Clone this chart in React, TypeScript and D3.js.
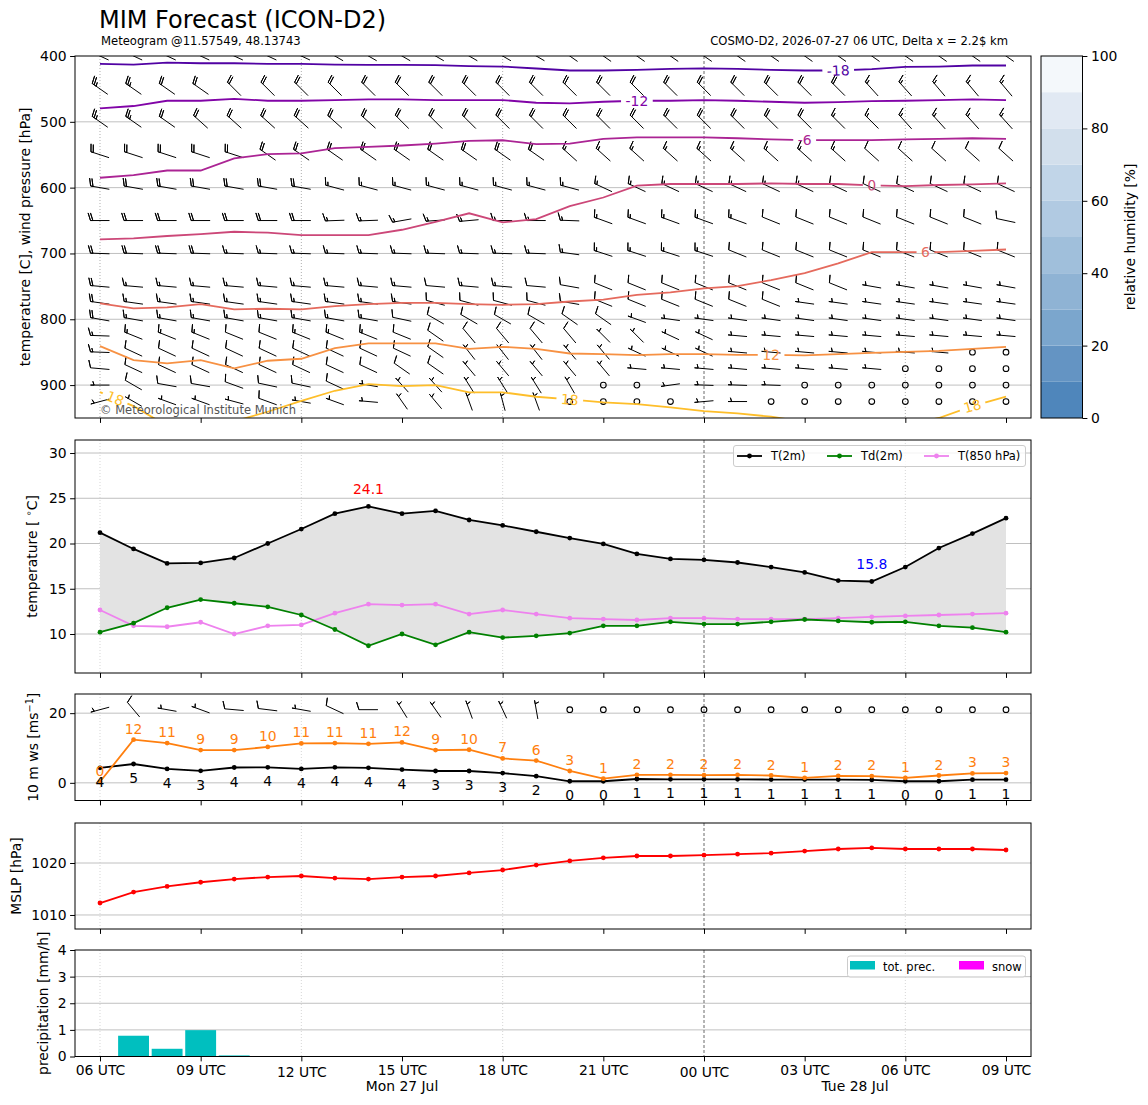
import React, { useEffect, useRef } from "react";
import * as d3 from "d3";

// forecast valid times (hourly)
const validTimes = [
  "2026-07-27T06:00:00Z", "2026-07-27T07:00:00Z", "2026-07-27T08:00:00Z", "2026-07-27T09:00:00Z",
  "2026-07-27T10:00:00Z", "2026-07-27T11:00:00Z", "2026-07-27T12:00:00Z", "2026-07-27T13:00:00Z",
  "2026-07-27T14:00:00Z", "2026-07-27T15:00:00Z", "2026-07-27T16:00:00Z", "2026-07-27T17:00:00Z",
  "2026-07-27T18:00:00Z", "2026-07-27T19:00:00Z", "2026-07-27T20:00:00Z", "2026-07-27T21:00:00Z",
  "2026-07-27T22:00:00Z", "2026-07-27T23:00:00Z", "2026-07-28T00:00:00Z", "2026-07-28T01:00:00Z",
  "2026-07-28T02:00:00Z", "2026-07-28T03:00:00Z", "2026-07-28T04:00:00Z", "2026-07-28T05:00:00Z",
  "2026-07-28T06:00:00Z", "2026-07-28T07:00:00Z", "2026-07-28T08:00:00Z", "2026-07-28T09:00:00Z",
];

// 2 m temperature, 2 m dew point, 850 hPa temperature [°C]
const t2m = [21.2, 19.4, 17.8, 17.85, 18.4, 20.0, 21.6, 23.3, 24.1, 23.3, 23.6, 22.6, 22.0, 21.3, 20.6, 19.95, 18.85, 18.3, 18.2, 17.9, 17.4, 16.8, 15.9, 15.8, 17.4, 19.5, 21.1, 22.8];
const td2m = [10.2, 11.2, 12.9, 13.8, 13.4, 13.0, 12.1, 10.5, 8.7, 10.0, 8.8, 10.2, 9.6, 9.8, 10.1, 10.9, 10.9, 11.35, 11.1, 11.1, 11.35, 11.6, 11.45, 11.3, 11.35, 10.9, 10.7, 10.2];
const t850 = [12.65, 10.9, 10.8, 11.3, 10.0, 10.9, 11.0, 12.3, 13.3, 13.2, 13.3, 12.2, 12.65, 12.2, 11.75, 11.65, 11.55, 11.75, 11.75, 11.65, 11.65, 11.65, 11.75, 11.9, 12.0, 12.1, 12.2, 12.3];

// 10 m wind speed and gusts [m/s]
const ws10 = [4.3, 5.4, 4.0, 3.45, 4.4, 4.45, 4.0, 4.45, 4.3, 3.8, 3.4, 3.4, 2.8, 1.9, 0.45, 0.45, 1.1, 1.0, 1.0, 1.0, 0.95, 0.95, 0.95, 0.85, 0.45, 0.45, 0.9, 0.9];
const gust10 = [0.3, 12.4, 11.4, 9.4, 9.4, 10.3, 11.3, 11.4, 11.2, 11.6, 9.4, 9.5, 7.0, 6.4, 3.4, 1.2, 2.3, 2.3, 2.2, 2.3, 2.1, 1.45, 2.0, 1.9, 1.45, 2.1, 2.7, 2.8];

// 10 m wind barbs (barb units, direction wind comes from in degrees)
const sfcBarbSpeed = [5, 10, 5, 5, 10, 10, 5, 10, 10, 5, 5, 5, 5, 5, 0, 0, 0, 0, 0, 0, 0, 0, 0, 0, 0, 0, 0, 0];
const sfcBarbDir = [255, 320, 280, 290, 275, 277, 280, 295, 270, 328, 325, 340, 335, 350, 0, 0, 0, 0, 0, 0, 0, 0, 0, 0, 0, 0, 0, 0];

// mean sea level pressure [hPa]
const mslp = [1012.3, 1014.4, 1015.5, 1016.3, 1016.9, 1017.3, 1017.5, 1017.1, 1016.9, 1017.3, 1017.5, 1018.1, 1018.65, 1019.6, 1020.4, 1021.0, 1021.35, 1021.35, 1021.5, 1021.7, 1021.9, 1022.3, 1022.7, 1022.9, 1022.7, 1022.7, 1022.7, 1022.5];

// precipitation [mm/h]
const totPrec = [0, 0.78, 0.29, 0.99, 0.04, 0, 0, 0, 0, 0, 0, 0, 0, 0, 0, 0, 0, 0, 0, 0, 0, 0, 0, 0, 0, 0, 0, 0];
const snowPrec = [0, 0, 0, 0, 0, 0, 0, 0, 0, 0, 0, 0, 0, 0, 0, 0, 0, 0, 0, 0, 0, 0, 0, 0, 0, 0, 0, 0];

// upper air wind barbs: pressure levels, speed (barb units), direction (deg)
const barbLevels = [400, 450, 500, 550, 600, 650, 700, 750, 775, 800, 825, 850, 875, 900, 925];
const barbSpeed = [
  [25, 25, 25, 25, 25, 25, 25, 25, 25, 25, 25, 25, 25, 25, 25, 25, 25, 25, 25, 25, 25, 20, 20, 20, 20, 20, 20, 20],
  [25, 25, 20, 20, 20, 20, 20, 20, 20, 20, 20, 20, 20, 20, 20, 20, 20, 20, 20, 20, 20, 20, 20, 15, 15, 15, 15, 15],
  [25, 25, 20, 20, 20, 20, 20, 20, 20, 20, 20, 20, 20, 20, 20, 20, 20, 20, 20, 20, 20, 20, 15, 15, 15, 15, 15, 15],
  [20, 20, 20, 20, 20, 20, 20, 20, 20, 20, 20, 20, 20, 20, 15, 15, 15, 15, 15, 15, 15, 15, 15, 10, 10, 10, 10, 10],
  [20, 20, 20, 20, 20, 20, 20, 15, 15, 15, 15, 15, 15, 15, 15, 15, 15, 15, 15, 15, 15, 15, 10, 10, 10, 10, 10, 10],
  [20, 20, 20, 20, 20, 20, 20, 15, 15, 15, 15, 15, 15, 15, 15, 15, 15, 15, 15, 15, 10, 10, 10, 10, 10, 10, 10, 10],
  [20, 20, 20, 20, 15, 15, 15, 15, 15, 15, 15, 15, 15, 15, 15, 15, 15, 15, 15, 10, 10, 10, 10, 10, 10, 10, 10, 10],
  [20, 15, 15, 15, 15, 15, 15, 15, 15, 15, 10, 15, 15, 10, 10, 10, 10, 10, 10, 10, 10, 10, 10, 5, 5, 5, 5, 5],
  [20, 15, 15, 15, 15, 15, 15, 15, 15, 15, 10, 10, 10, 10, 10, 10, 10, 10, 10, 10, 10, 5, 5, 5, 5, 5, 5, 5],
  [20, 15, 15, 15, 15, 15, 15, 15, 15, 10, 10, 10, 10, 10, 10, 10, 5, 5, 5, 5, 5, 5, 5, 5, 5, 5, 5, 5],
  [15, 15, 15, 15, 10, 10, 15, 15, 15, 10, 10, 10, 10, 10, 10, 5, 5, 5, 5, 5, 5, 5, 5, 5, 5, 5, 5, 5],
  [15, 10, 10, 10, 10, 10, 10, 10, 10, 10, 10, 5, 5, 5, 5, 5, 5, 5, 5, 5, 5, 5, 5, 5, 5, 5, 0, 0],
  [10, 10, 10, 10, 10, 10, 10, 10, 10, 10, 10, 5, 5, 5, 5, 5, 5, 5, 5, 5, 5, 5, 5, 5, 0, 0, 0, 0],
  [5, 10, 10, 10, 10, 10, 10, 10, 5, 5, 5, 5, 5, 5, 5, 0, 0, 5, 5, 5, 5, 0, 0, 0, 0, 0, 0, 0],
  [5, 5, 5, 5, 5, 10, 5, 5, 5, 5, 5, 5, 5, 5, 0, 0, 0, 0, 5, 5, 0, 0, 0, 0, 0, 0, 0, 0],
];
const barbDir = [
  [295, 295, 295, 295, 295, 295, 295, 300, 300, 300, 300, 300, 300, 300, 305, 305, 305, 305, 305, 305, 305, 305, 305, 305, 305, 305, 305, 305],
  [305, 305, 305, 305, 315, 315, 315, 315, 315, 315, 315, 315, 315, 315, 315, 315, 315, 315, 315, 315, 315, 315, 315, 318, 318, 320, 320, 320],
  [305, 305, 305, 312, 312, 312, 312, 312, 312, 315, 315, 315, 315, 315, 315, 315, 315, 315, 315, 315, 315, 315, 315, 315, 318, 318, 318, 318],
  [288, 288, 288, 288, 288, 305, 305, 305, 305, 305, 305, 305, 305, 305, 312, 312, 312, 312, 312, 312, 312, 312, 312, 312, 312, 312, 312, 312],
  [280, 280, 280, 280, 280, 280, 280, 285, 285, 285, 285, 285, 285, 285, 285, 295, 295, 295, 295, 295, 295, 295, 295, 295, 295, 295, 295, 295],
  [270, 270, 270, 270, 270, 270, 270, 268, 268, 260, 266, 265, 270, 270, 272, 290, 290, 290, 290, 290, 292, 292, 292, 292, 292, 292, 292, 282],
  [272, 272, 272, 272, 272, 272, 272, 272, 272, 272, 272, 272, 272, 272, 278, 288, 288, 288, 288, 292, 292, 292, 292, 292, 292, 292, 292, 292],
  [275, 275, 275, 275, 275, 275, 275, 275, 275, 275, 275, 275, 275, 275, 280, 292, 292, 292, 292, 292, 292, 292, 292, 280, 280, 280, 280, 280],
  [278, 278, 278, 278, 278, 278, 278, 278, 278, 278, 285, 285, 285, 285, 280, 292, 292, 292, 292, 292, 292, 278, 278, 278, 278, 278, 278, 278],
  [280, 280, 280, 280, 280, 280, 280, 280, 280, 282, 300, 300, 300, 300, 305, 305, 290, 278, 278, 278, 278, 278, 278, 278, 278, 278, 278, 278],
  [272, 292, 292, 292, 292, 292, 292, 292, 292, 292, 305, 320, 320, 320, 320, 315, 315, 295, 295, 275, 275, 275, 275, 275, 275, 275, 275, 275],
  [272, 295, 295, 295, 295, 295, 295, 295, 295, 295, 305, 322, 322, 322, 320, 320, 295, 295, 295, 275, 275, 275, 275, 275, 275, 275, 0, 0],
  [275, 295, 295, 295, 295, 295, 295, 295, 295, 305, 305, 320, 320, 320, 320, 320, 275, 275, 275, 275, 275, 275, 275, 275, 0, 0, 0, 0],
  [270, 300, 280, 280, 290, 282, 282, 295, 280, 318, 318, 328, 328, 328, 330, 0, 0, 262, 272, 272, 272, 0, 0, 0, 0, 0, 0, 0],
  [255, 300, 290, 290, 285, 290, 280, 290, 275, 325, 320, 340, 345, 340, 0, 0, 0, 0, 265, 270, 0, 0, 0, 0, 0, 0, 0, 0],
];

// isotherms: pressure [hPa] where each contour lies at each hour
const isoLevels = [-18, -12, -6, 0, 6, 12, 18];
const isoPressure = [
  [412, 413, 410, 411, 411, 412, 412, 413, 413.5, 413.5, 414, 415.5, 416, 419, 422, 422, 421, 419.6, 418.8, 419.6, 421, 422, 422, 420, 416.6, 416, 414.4, 414.4],
  [479.5, 476, 468, 468, 465, 468, 468, 467, 466, 466, 467, 467, 467, 471, 472, 469.5, 468, 468, 467, 468, 469.5, 471, 470, 468.5, 468, 467, 466, 467],
  [585, 581, 574, 574, 555.5, 549, 548, 540, 538, 536, 533, 529, 528, 534, 533, 526, 523.6, 523.6, 523.6, 525, 526.6, 527.7, 527.7, 527.7, 526.6, 526, 525, 526],
  [678.6, 677, 673.5, 670.5, 667, 668.5, 672, 672, 672, 664, 652, 639, 652.7, 647.7, 628, 615, 597, 594.5, 594.5, 594.5, 593.5, 594.5, 594.5, 596.6, 597.6, 596, 595, 593.5],
  [776, 783.5, 782, 777, 785, 784, 785, 780, 777, 775, 775, 777, 778, 777, 773, 770, 763, 759, 753, 749.5, 740.4, 730, 715, 698, 698, 698, 696, 694],
  [840.7, 862, 867, 862, 874.6, 863, 860, 844, 836.6, 836.6, 836.6, 845, 841.8, 845, 852, 853, 854.5, 853, 853, 854, 854, 855, 853, 851, 849.4, 848, 845, 841.8],
  [910.6, 932, 962, 972, 955, 940.5, 924, 908.6, 898.5, 901.5, 900, 911, 911, 917.7, 921.8, 926.4, 929, 934, 939.5, 943, 948, 956, 965, 965, 960, 950, 932, 917.7],
];
// inline contour labels: isotherm and fractional hour index
const isoLabelLevels = [-18, -12, -6, 0, 6, 12, 18, 18, 18];
const isoLabelAt = [22, 16, 21, 23, 24.6, 20, 0.45, 14, 26];

const rhBounds = [0, 10, 20, 30, 40, 50, 60, 70, 80, 90, 100];
const rhTicks = [0, 20, 40, 60, 80, 100];
const rhColors = ["#4f86bb", "#6494c3", "#7ba6cd", "#8fb3d4", "#a0bfdb", "#b1cae2", "#c1d5e8", "#d2dfec", "#e1e9f3", "#f4f8fb"];

const FONT = "'DejaVu Sans', sans-serif";
const FS = 13.9;
const X0 = 75;
const X1 = 1031;
const BARB_L = 19;
const SFC_BARB_ROW = 21;

type Panel = { top: number; bottom: number };

// matplotlib-like wind barb path (pivot in the middle)
function barbPath(speed: number, dirDeg: number, L: number): string | null {
  const r = Math.round(speed / 5) * 5;
  if (r < 5) return null;
  const flags = Math.floor(r / 50);
  const rem = r - flags * 50;
  const nb = Math.floor(rem / 10);
  const half = rem - nb * 10 >= 5;
  const spacing = 0.125 * L;
  const h = 0.4 * L;
  const w = 0.25 * L;
  const endy = -L / 2;
  const pts: [number, number][] = [[0, endy]];
  let off = L;
  for (let i = 0; i < flags; i++) {
    if (off !== L) off += spacing / 2;
    pts.push([0, endy + off], [h, endy - w / 2 + off], [0, endy - w + off]);
    off -= w + spacing;
  }
  for (let i = 0; i < nb; i++) {
    pts.push([0, endy + off], [h, endy + off + w / 2], [0, endy + off]);
    off -= spacing;
  }
  if (half) {
    if (off === L) {
      pts.push([0, endy + off]);
      off -= 1.5 * spacing;
    }
    pts.push([0, endy + off], [h / 2, endy + off + w / 4], [0, endy + off]);
  }
  const rad = (dirDeg * Math.PI) / 180;
  const u = -Math.sin(rad);
  const v = -Math.cos(rad);
  const rot = Math.atan2(v, u) + Math.PI / 2;
  const c = Math.cos(rot);
  const s = Math.sin(rot);
  return pts
    .map(([px, py], i) => {
      const rx = px * c - py * s;
      const ry = px * s + py * c;
      return `${i ? "L" : "M"}${rx.toFixed(2)},${(-ry).toFixed(2)}`;
    })
    .join("");
}

export default function App() {
  const svgRef = useRef<SVGSVGElement | null>(null);

  useEffect(() => {
    if (!svgRef.current) return;
    const svg = d3.select(svgRef.current);
    svg.selectAll("*").remove();
    svg.attr("font-family", FONT);
    const defs = svg.append("defs");

    const times = validTimes.map((s) => new Date(s));
    const last = times[times.length - 1];
    const pad = 0.745 * 3600e3;
    const x = d3
      .scaleUtc()
      .domain([new Date(+times[0] - pad), new Date(+last + pad)])
      .range([X0, X1]);
    const tickTimes = d3.utcHour.every(3)!.range(times[0], new Date(+last + 1));
    const gridTimes = tickTimes.filter((t) => t.getUTCHours() % 6 === 0);
    const xi = (i: number) => x(times[i]);

    const P1: Panel = { top: 56, bottom: 418 };
    const P2: Panel = { top: 440, bottom: 673 };
    const P3: Panel = { top: 694, bottom: 800.5 };
    const P4: Panel = { top: 823, bottom: 929 };
    const P5: Panel = { top: 950, bottom: 1056.5 };

    const yP = d3.scaleLinear().domain([400, 950]).range([P1.top, P1.bottom]);
    const yT = d3.scaleLinear().domain([5.69, 31.44]).range([P2.bottom, P2.top]);
    const yW = d3.scaleLinear().domain([-5.07, 25.5]).range([P3.bottom, P3.top]);
    const yM = d3.scaleLinear().domain([1007.3, 1027.7]).range([P4.bottom, P4.top]);
    const yR = d3.scaleLinear().domain([0, 4]).range([P5.bottom, P5.top]);

    svg.append("rect").attr("width", 1148).attr("height", 1105).attr("fill", "#fff");

    // background grid of one panel
    const grid = (p: Panel, y: d3.ScaleLinear<number, number>, ticks: number[], id: string, dotColor: string) => {
      defs
        .append("clipPath")
        .attr("id", id)
        .append("rect")
        .attr("x", X0)
        .attr("y", p.top)
        .attr("width", X1 - X0)
        .attr("height", p.bottom - p.top);
      const g = svg.append("g");
      g.selectAll("line.h")
        .data(ticks.filter((t) => y(t) > p.top + 1 && y(t) < p.bottom - 1))
        .join("line")
        .attr("x1", X0)
        .attr("x2", X1)
        .attr("y1", (d) => y(d))
        .attr("y2", (d) => y(d))
        .attr("stroke", "#b0b0b0")
        .attr("stroke-width", 0.8);
      g.selectAll("line.v")
        .data(gridTimes)
        .join("line")
        .attr("x1", (d) => x(d))
        .attr("x2", (d) => x(d))
        .attr("y1", p.top)
        .attr("y2", p.bottom)
        .attr("stroke", (d) => (d.getUTCHours() === 0 ? "#444" : dotColor))
        .attr("stroke-width", 0.8)
        .attr("stroke-dasharray", (d) => (d.getUTCHours() === 0 ? "3,2" : "1,2"));
      return svg.append("g").attr("clip-path", `url(#${id})`);
    };

    // frame and axes of one panel
    const axes = (p: Panel, y: d3.ScaleLinear<number, number>, ticks: number[], fmt: (d: number) => string, withLabels: boolean) => {
      svg
        .append("rect")
        .attr("x", X0)
        .attr("y", p.top)
        .attr("width", X1 - X0)
        .attr("height", p.bottom - p.top)
        .attr("fill", "none")
        .attr("stroke", "#000")
        .attr("stroke-width", 1);
      const ya = svg
        .append("g")
        .attr("transform", `translate(${X0},0)`)
        .call(d3.axisLeft(y).tickValues(ticks).tickSize(4.9).tickPadding(3.5).tickFormat((d) => fmt(+d)));
      ya.select(".domain").remove();
      ya.attr("font-size", FS).attr("font-family", FONT);
      const xa = svg
        .append("g")
        .attr("transform", `translate(0,${p.bottom})`)
        .call(
          d3
            .axisBottom(x)
            .tickValues(tickTimes)
            .tickSize(4.9)
            .tickPadding(3.5)
            .tickFormat((d) => (withLabels ? d3.utcFormat("%H UTC")(d as Date) : ""))
        );
      xa.select(".domain").remove();
      xa.attr("font-size", FS).attr("font-family", FONT);
      if (withLabels) {
        xa.selectAll<SVGTextElement, Date>("text").attr("y", (d) => (d.getUTCHours() % 12 === 0 ? 10.7 : 8.4));
      }
    };

    const yLabel = (text: string, cx: number, p: Panel) =>
      svg
        .append("text")
        .attr("transform", `translate(${cx},${(p.top + p.bottom) / 2}) rotate(-90)`)
        .attr("text-anchor", "middle")
        .attr("font-size", FS)
        .text(text);

    // ---------- panel 1: wind barbs and isotherms ----------
    const g1 = grid(P1, yP, [400, 500, 600, 700, 800, 900], "clip1", "#999");
    const barbG = g1.append("g");
    barbLevels.forEach((lev, li) => {
      times.forEach((t, k) => {
        const d = barbPath(barbSpeed[li][k], barbDir[li][k], BARB_L);
        if (d) {
          barbG
            .append("path")
            .attr("transform", `translate(${x(t)},${yP(lev)})`)
            .attr("d", d)
            .attr("fill", "none")
            .attr("stroke", "#000")
            .attr("stroke-width", 1)
            .attr("stroke-linejoin", "round");
        } else {
          barbG
            .append("circle")
            .attr("cx", x(t))
            .attr("cy", yP(lev))
            .attr("r", 0.15 * BARB_L)
            .attr("fill", "none")
            .attr("stroke", "#000")
            .attr("stroke-width", 1.1);
        }
      });
    });

    const isoColor = (lev: number) => d3.interpolatePlasma(0.5 + lev / 50);
    const isoLineG = g1.append("g");
    const isoLabelG = g1.append("g");
    const mask = defs.append("mask").attr("id", "isoMask").attr("maskUnits", "userSpaceOnUse");
    mask.append("rect").attr("x", 0).attr("y", 0).attr("width", 1148).attr("height", 1105).attr("fill", "#fff");
    isoLabelLevels.forEach((lev, j) => {
      const li = isoLevels.indexOf(lev);
      const at = isoLabelAt[j];
      const k0 = Math.min(Math.floor(at), times.length - 2);
      const f = at - k0;
      const xa = xi(k0);
      const xb = xi(k0 + 1);
      const ya = yP(isoPressure[li][k0]);
      const yb = yP(isoPressure[li][k0 + 1]);
      const cx = xa + f * (xb - xa);
      const cy = ya + f * (yb - ya);
      const ang = (Math.atan2(yb - ya, xb - xa) * 180) / Math.PI;
      const txt = isoLabelG
        .append("text")
        .attr("transform", `translate(${cx},${cy}) rotate(${ang})`)
        .attr("text-anchor", "middle")
        .attr("dy", "0.36em")
        .attr("font-size", FS)
        .attr("fill", isoColor(lev))
        .text(String(lev));
      const w = (txt.node() as SVGTextElement).getComputedTextLength() + 9;
      mask
        .append("rect")
        .attr("transform", `translate(${cx},${cy}) rotate(${ang})`)
        .attr("x", -w / 2)
        .attr("y", -8)
        .attr("width", w)
        .attr("height", 16)
        .attr("fill", "#000");
    });
    const isoLine = d3
      .line<number>()
      .x((_, k) => xi(k))
      .y((p) => yP(p));
    isoLineG
      .attr("mask", "url(#isoMask)")
      .selectAll("path")
      .data(isoLevels)
      .join("path")
      .attr("d", (_, li) => isoLine(isoPressure[li]))
      .attr("fill", "none")
      .attr("stroke", (d) => isoColor(d))
      .attr("stroke-width", 1.8);

    g1.append("text")
      .attr("x", 100)
      .attr("y", 414)
      .attr("font-size", 11.5)
      .attr("fill", "#555")
      .text("© Meteorological Institute Munich");
    axes(P1, yP, [400, 500, 600, 700, 800, 900], (d) => String(d), false);
    yLabel("temperature [C], wind pressure [hPa]", 30, P1);

    // ---------- panel 2: temperatures ----------
    const g2 = grid(P2, yT, [10, 15, 20, 25, 30], "clip2", "#ccc");
    g2.append("path")
      .attr(
        "d",
        d3
          .area<number>()
          .x((_, k) => xi(k))
          .y0((_, k) => yT(td2m[k]))
          .y1((d) => yT(d))(t2m)
      )
      .attr("fill", "#e3e3e3");
    const tSeries = [
      { data: t2m, color: "#000000" },
      { data: td2m, color: "#008000" },
      { data: t850, color: "#ee82ee" },
    ];
    const serLine = (y: d3.ScaleLinear<number, number>) =>
      d3
        .line<number>()
        .x((_, k) => xi(k))
        .y((d) => y(d));
    [tSeries[2], tSeries[1], tSeries[0]].forEach((s) => {
      g2.append("path").attr("d", serLine(yT)(s.data)).attr("fill", "none").attr("stroke", s.color).attr("stroke-width", 1.8);
      g2.selectAll(null)
        .data(s.data)
        .join("circle")
        .attr("cx", (_, k) => xi(k))
        .attr("cy", (d) => yT(d))
        .attr("r", 2.4)
        .attr("fill", s.color);
    });
    const iMax = d3.maxIndex(t2m);
    const iMin = d3.minIndex(t2m);
    g2.append("text")
      .attr("x", xi(iMax))
      .attr("y", yT(t2m[iMax] + 1.4))
      .attr("text-anchor", "middle")
      .attr("font-size", FS)
      .attr("fill", "#ff0000")
      .text(t2m[iMax].toFixed(1));
    g2.append("text")
      .attr("x", xi(iMin))
      .attr("y", yT(t2m[iMin] + 1.4))
      .attr("text-anchor", "middle")
      .attr("font-size", FS)
      .attr("fill", "#0000ff")
      .text(t2m[iMin].toFixed(1));
    // legend
    const lg = svg.append("g").attr("font-size", 11.5);
    lg.append("rect")
      .attr("x", 733.5)
      .attr("y", 445.5)
      .attr("width", 292)
      .attr("height", 21)
      .attr("rx", 2.5)
      .attr("fill", "#fff")
      .attr("fill-opacity", 0.8)
      .attr("stroke", "#ccc");
    const tLegend = [
      { label: "T(2m)", color: "#000000", x: 737 },
      { label: "Td(2m)", color: "#008000", x: 827 },
      { label: "T(850 hPa)", color: "#ee82ee", x: 924 },
    ];
    tLegend.forEach((e) => {
      lg.append("line").attr("x1", e.x).attr("x2", e.x + 25).attr("y1", 456).attr("y2", 456).attr("stroke", e.color).attr("stroke-width", 1.8);
      lg.append("circle").attr("cx", e.x + 12.5).attr("cy", 456).attr("r", 2.4).attr("fill", e.color);
      lg.append("text").attr("x", e.x + 34).attr("y", 460).text(e.label);
    });
    axes(P2, yT, [10, 15, 20, 25, 30], (d) => String(d), false);
    const tl = svg
      .append("text")
      .attr("transform", `translate(37,${(P2.top + P2.bottom) / 2}) rotate(-90)`)
      .attr("text-anchor", "middle")
      .attr("font-size", FS);
    tl.append("tspan").text("temperature [ ");
    tl.append("tspan").attr("dy", -5).attr("font-size", 9.5).text("∘");
    tl.append("tspan").attr("dy", 5).text("C]");

    // ---------- panel 3: 10 m wind ----------
    const g3 = grid(P3, yW, [0, 20], "clip3", "#ccc");
    times.forEach((t, k) => {
      const d = barbPath(sfcBarbSpeed[k], sfcBarbDir[k], BARB_L);
      if (d) {
        g3.append("path")
          .attr("transform", `translate(${x(t)},${yW(SFC_BARB_ROW)})`)
          .attr("d", d)
          .attr("fill", "none")
          .attr("stroke", "#000")
          .attr("stroke-width", 1)
          .attr("stroke-linejoin", "round");
      } else {
        g3.append("circle")
          .attr("cx", x(t))
          .attr("cy", yW(SFC_BARB_ROW))
          .attr("r", 0.15 * BARB_L)
          .attr("fill", "none")
          .attr("stroke", "#000")
          .attr("stroke-width", 1.1);
      }
    });
    const wSeries = [
      { data: ws10, color: "#000000", dy: 19 },
      { data: gust10, color: "#ff7f0e", dy: -6 },
    ];
    wSeries.forEach((s) => {
      g3.append("path").attr("d", serLine(yW)(s.data)).attr("fill", "none").attr("stroke", s.color).attr("stroke-width", 1.8);
      g3.selectAll(null)
        .data(s.data)
        .join("circle")
        .attr("cx", (_, k) => xi(k))
        .attr("cy", (d) => yW(d))
        .attr("r", 2.4)
        .attr("fill", s.color);
    });
    wSeries.forEach((s) => {
      svg
        .append("g")
        .selectAll("text")
        .data(s.data)
        .join("text")
        .attr("x", (_, k) => xi(k))
        .attr("y", (d) => yW(d) + s.dy)
        .attr("text-anchor", "middle")
        .attr("font-size", FS)
        .attr("fill", s.color)
        .text((d) => String(Math.round(d)));
    });
    axes(P3, yW, [0, 20], (d) => String(d), false);
    const wl = svg
      .append("text")
      .attr("transform", `translate(37.5,${(P3.top + P3.bottom) / 2}) rotate(-90)`)
      .attr("text-anchor", "middle")
      .attr("font-size", FS);
    wl.append("tspan").text("10 m ws [ms");
    wl.append("tspan").attr("dy", -5).attr("font-size", 9.7).text("−1");
    wl.append("tspan").attr("dy", 5).text("]");

    // ---------- panel 4: MSLP ----------
    const g4 = grid(P4, yM, [1010, 1020], "clip4", "#ccc");
    g4.append("path").attr("d", serLine(yM)(mslp)).attr("fill", "none").attr("stroke", "#ff0000").attr("stroke-width", 1.8);
    g4.selectAll(null)
      .data(mslp)
      .join("circle")
      .attr("cx", (_, k) => xi(k))
      .attr("cy", (d) => yM(d))
      .attr("r", 2.4)
      .attr("fill", "#ff0000");
    axes(P4, yM, [1010, 1020], (d) => String(d), false);
    yLabel("MSLP [hPa]", 21, P4);

    // ---------- panel 5: precipitation ----------
    const g5 = grid(P5, yR, [0, 1, 2, 3, 4], "clip5", "#ccc");
    const halfBar = 0.46 * 3600e3;
    const bars = (data: number[], color: string) =>
      g5
        .selectAll(null)
        .data(data)
        .join("rect")
        .attr("x", (_, k) => x(new Date(+times[k] - halfBar)))
        .attr("width", (_, k) => x(new Date(+times[k] + halfBar)) - x(new Date(+times[k] - halfBar)))
        .attr("y", (d) => yR(d))
        .attr("height", (d) => yR(0) - yR(d))
        .attr("fill", color);
    bars(totPrec, "#00bfbf");
    bars(snowPrec, "#ff00ff");
    const pl = svg.append("g").attr("font-size", 11.5);
    pl.append("rect")
      .attr("x", 847.5)
      .attr("y", 956)
      .attr("width", 178)
      .attr("height", 21)
      .attr("rx", 2.5)
      .attr("fill", "#fff")
      .attr("fill-opacity", 0.8)
      .attr("stroke", "#ccc");
    [
      { label: "tot. prec.", color: "#00bfbf", x: 850 },
      { label: "snow", color: "#ff00ff", x: 959 },
    ].forEach((e) => {
      pl.append("rect").attr("x", e.x).attr("y", 961).attr("width", 25).attr("height", 8.5).attr("fill", e.color);
      pl.append("text").attr("x", e.x + 33).attr("y", 970.5).text(e.label);
    });
    axes(P5, yR, [0, 1, 2, 3, 4], (d) => String(d), true);
    yLabel("precipitation [mm/h]", 48, P5);

    // day labels under the time axis
    const days = d3.utcDay.range(d3.utcDay.floor(times[0]), last);
    svg
      .append("g")
      .selectAll("text")
      .data(days)
      .join("text")
      .attr("x", (d) => {
        const a = Math.max(+d, +times[0]);
        const b = Math.min(+d3.utcDay.offset(d, 1), +last);
        return x(new Date((a + b) / 2));
      })
      .attr("y", 1091)
      .attr("text-anchor", "middle")
      .attr("font-size", FS)
      .text((d) => d3.utcFormat("%a %d %b")(d));

    // ---------- colour bar ----------
    const cbX0 = 1041;
    const cbX1 = 1082.5;
    const yC = d3.scaleLinear().domain([0, 100]).range([P1.bottom, P1.top]);
    const cb = svg.append("g");
    cb.selectAll("rect")
      .data(rhColors)
      .join("rect")
      .attr("x", cbX0)
      .attr("width", cbX1 - cbX0)
      .attr("y", (_, i) => yC(rhBounds[i + 1]))
      .attr("height", (_, i) => yC(rhBounds[i]) - yC(rhBounds[i + 1]))
      .attr("fill", (d) => d);
    cb.append("rect")
      .attr("x", cbX0)
      .attr("y", P1.top)
      .attr("width", cbX1 - cbX0)
      .attr("height", P1.bottom - P1.top)
      .attr("fill", "none")
      .attr("stroke", "#000")
      .attr("stroke-width", 1);
    const ca = svg
      .append("g")
      .attr("transform", `translate(${cbX1},0)`)
      .call(d3.axisRight(yC).tickValues(rhTicks).tickSize(4.9).tickPadding(3.5));
    ca.select(".domain").remove();
    ca.attr("font-size", FS).attr("font-family", FONT);
    svg
      .append("text")
      .attr("transform", `translate(1135,${(P1.top + P1.bottom) / 2}) rotate(-90)`)
      .attr("text-anchor", "middle")
      .attr("font-size", FS)
      .text("relative humidity [%]");

    // ---------- titles ----------
    svg.append("text").attr("x", 99).attr("y", 28).attr("font-size", 24).text("MIM Forecast (ICON-D2)");
    svg.append("text").attr("x", 101).attr("y", 45).attr("font-size", 11.6).text("Meteogram @11.57549, 48.13743");
    svg
      .append("text")
      .attr("x", 1008)
      .attr("y", 45)
      .attr("text-anchor", "end")
      .attr("font-size", 11.6)
      .text("COSMO-D2, 2026-07-27 06 UTC, Delta x = 2.2$ km");
  }, []);

  return (
    <svg
      ref={svgRef}
      width={1148}
      height={1105}
      style={{ position: "absolute", left: 0, top: 0, background: "#fff" }}
    />
  );
}
